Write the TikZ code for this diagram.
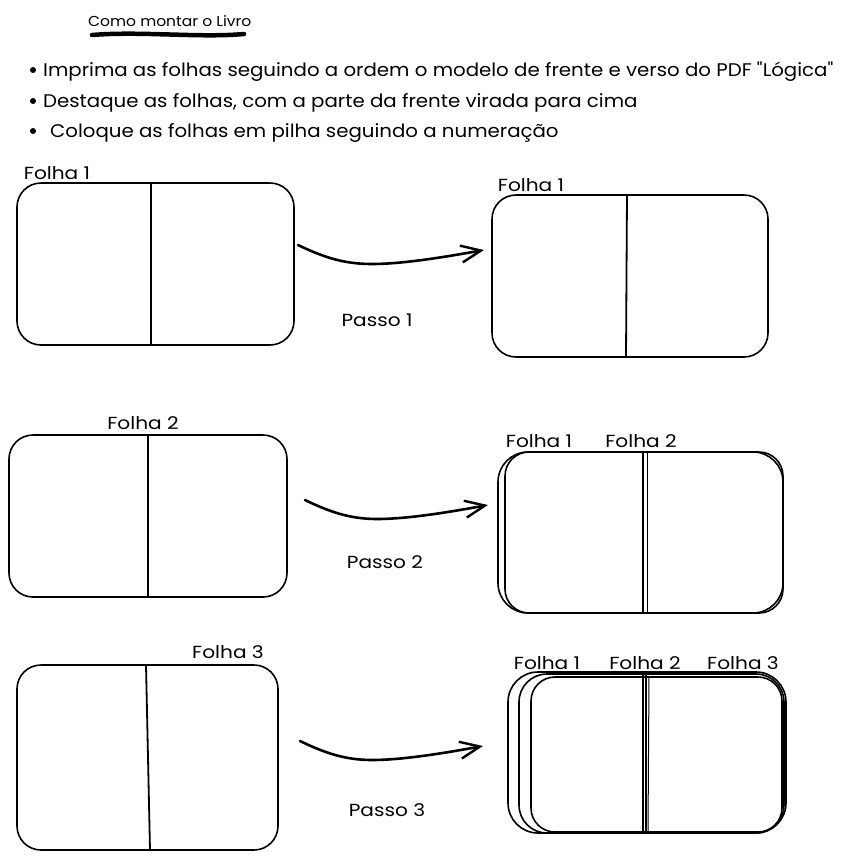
\documentclass[tikz,border=0pt]{standalone}
\usepackage{fontspec}
\setmainfont{Poppins}
\newfontfamily\hand[FakeStretch=1.15]{Poppins}
\newfontfamily\handb[FakeStretch=1.08]{Poppins}
\usetikzlibrary{arrows.meta,calc}
\begin{document}
\begin{tikzpicture}[x=1pt,y=-1pt,
  sheet/.style={draw, line width=1.6pt, rounded corners=24pt, inner sep=0pt, outer sep=0pt, anchor=north west},
  divider/.style={line width=1.8pt},
  thindiv/.style={line width=1pt},
  flow/.style={line width=2.6pt, line cap=round, -{Straight Barb[length=20pt,width=17pt,line width=2.4pt]}},
  lbl/.style={font=\hand\fontsize{17.5}{19}\selectfont, inner sep=0pt},
  bodytext/.style={font=\handb\fontsize{18.3}{20}\selectfont, inner sep=0pt, anchor=base west},
  dot/.style={circle, fill=black, inner sep=0pt, minimum size=6pt}]
\useasboundingbox (0,0) rectangle (844,868);

% header
\node[font=\handb\fontsize{14.4}{16}\selectfont, inner sep=0pt, anchor=base west] (title) at (88,26) {Como montar o Livro};
\coordinate (ulS) at (92,35);
\coordinate (ulE) at (244,34);
\draw[line width=4.5pt, line cap=round] (ulS) .. controls (140,31) and (200,38) .. (ulE);

\node[dot] (d1) at (33,70) {};
\node[bodytext] (t1) at (43,76) {Imprima as folhas seguindo a ordem o modelo de frente e verso do PDF "Lógica"};
\node[dot] (d2) at (33,101) {};
\node[bodytext] (t2) at (43,107) {Destaque as folhas, com a parte da frente virada para cima};
\node[dot] (d3) at (33,131) {};
\node[bodytext] (t3) at (50,137) {Coloque as folhas em pilha seguindo a numeração};

% row 1
\node[sheet, minimum width=277pt, minimum height=162pt] (s1a) at (17,183) {};
\draw[divider] ([xshift=134pt]s1a.north west) -- ([xshift=134pt]s1a.south west);
\node[lbl] (l1a) at (57,173) {Folha 1};

\node[sheet, minimum width=276pt, minimum height=162pt] (s1b) at (492,195) {};
\draw[divider] ([xshift=135pt]s1b.north west) -- ([xshift=134pt]s1b.south west);
\node[lbl] (l1b) at (531,185) {Folha 1};

\coordinate (a1s) at (298,245);
\coordinate (a1e) at (484,250);
\draw[flow] (a1s) .. controls (325,258) and (345,264) .. (372,264) .. controls (405,264) and (450,256) .. (a1e);
\node[lbl] (p1) at (377,320) {Passo 1};

% row 2
\node[sheet, minimum width=278pt, minimum height=162pt] (s2a) at (9,435) {};
\draw[divider] ([xshift=139pt]s2a.north west) -- ([xshift=139pt]s2a.south west);
\node[lbl] (l2a) at (143,423) {Folha 2};

\node[sheet, minimum width=285pt, minimum height=161pt, rounded corners=30pt] (s2b) at (498,452) {};
\node[sheet, minimum width=278pt, minimum height=161pt] (s2c) at (505,452) {};
\draw[line width=2.8pt] ([xshift=138pt]s2c.north west) -- ([xshift=138pt]s2c.south west);
\draw[thindiv] ([xshift=142pt]s2c.north west) -- ([xshift=142pt]s2c.south west);
\node[lbl] (l2b1) at (539,441) {Folha 1};
\node[lbl] (l2b2) at (641,441) {Folha 2};

\coordinate (a2s) at (305,500);
\coordinate (a2e) at (488,505);
\draw[flow] (a2s) .. controls (330,512) and (350,519) .. (377,519) .. controls (410,519) and (455,511) .. (a2e);
\node[lbl] (p2) at (385,562) {Passo 2};

% row 3
\node[sheet, minimum width=261pt, minimum height=185pt] (s3a) at (17,665) {};
\draw[divider] ([xshift=129pt]s3a.north west) -- ([xshift=133pt]s3a.south west);
\node[lbl] (l3a) at (228,652) {Folha 3};

\node[sheet, minimum width=278pt, minimum height=161pt, rounded corners=30pt] (s3b) at (508,672) {};
\node[sheet, minimum width=265pt, minimum height=159pt, rounded corners=28pt] (s3c) at (519,674) {};
\node[sheet, minimum width=251pt, minimum height=155pt] (s3d) at (531,677) {};
\draw[divider] (643,672) -- (643,833);
\draw[divider] (646,674) -- (646,833);
\draw[thindiv] (649,677) -- (648,832);
\node[lbl] (l3b1) at (547,663) {Folha 1};
\node[lbl] (l3b2) at (645,663) {Folha 2};
\node[lbl] (l3b3) at (743,663) {Folha 3};

\coordinate (a3s) at (300,741);
\coordinate (a3e) at (483,746);
\draw[flow] (a3s) .. controls (325,753) and (345,760) .. (372,760) .. controls (405,760) and (450,752) .. (a3e);
\node[lbl] (p3) at (387,810) {Passo 3};
\end{tikzpicture}
\end{document}
